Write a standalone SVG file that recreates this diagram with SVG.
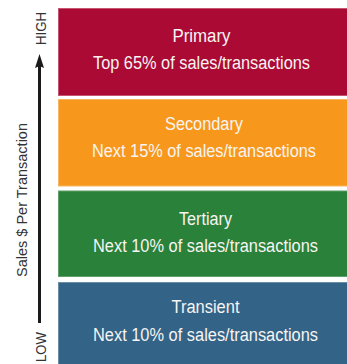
<svg xmlns="http://www.w3.org/2000/svg" width="347" height="364" viewBox="0 0 347 364">
  <style>
    .box text { font-family: "Liberation Sans", Arial, sans-serif; font-size: 18px; fill: #f7f4f2; text-anchor: middle; }
    .axis { font-family: "Liberation Sans", Arial, sans-serif; font-size: 14px; fill: #333; }
  </style>
  <rect width="347" height="364" fill="#ffffff"/>
  <g id="primary" class="box">
    <rect x="58.5" y="8.5" width="290" height="87" fill="#ab0a35" stroke="#c55470" stroke-width="1"/>
    <text x="201.5" y="42" textLength="58" lengthAdjust="spacingAndGlyphs">Primary</text>
    <text x="201.5" y="69" textLength="217" lengthAdjust="spacingAndGlyphs">Top 65% of sales/transactions</text>
  </g>
  <g id="secondary" class="box">
    <rect x="58.5" y="99.5" width="290" height="86.5" fill="#f7981d" stroke="#f9b660" stroke-width="1"/>
    <text x="204" y="130" textLength="78" lengthAdjust="spacingAndGlyphs">Secondary</text>
    <text x="204" y="157" textLength="224" lengthAdjust="spacingAndGlyphs">Next 15% of sales/transactions</text>
  </g>
  <g id="tertiary" class="box">
    <rect x="58.5" y="191" width="290" height="85.5" fill="#2a8139" stroke="#5d9f69" stroke-width="1"/>
    <text x="205.5" y="225" textLength="53" lengthAdjust="spacingAndGlyphs">Tertiary</text>
    <text x="205.5" y="252" textLength="225" lengthAdjust="spacingAndGlyphs">Next 10% of sales/transactions</text>
  </g>
  <g id="transient" class="box">
    <rect x="58.5" y="282.5" width="290" height="85" fill="#336386" stroke="#6b8ea8" stroke-width="1"/>
    <text x="205.5" y="313" textLength="68" lengthAdjust="spacingAndGlyphs">Transient</text>
    <text x="205.5" y="341" textLength="225" lengthAdjust="spacingAndGlyphs">Next 10% of sales/transactions</text>
  </g>
  <g id="axis">
    <line x1="39.5" y1="323" x2="39.5" y2="64" stroke="#1a1a1a" stroke-width="3"/>
    <polygon points="39.5,54 44,68 39.5,66 35,68" fill="#1a1a1a"/>
    <text class="axis" text-anchor="middle" transform="translate(46 28.5) rotate(-90)" textLength="33" lengthAdjust="spacingAndGlyphs">HIGH</text>
    <text class="axis" text-anchor="end" transform="translate(46 332) rotate(-90)" textLength="30" lengthAdjust="spacingAndGlyphs">LOW</text>
    <text class="axis" text-anchor="middle" transform="translate(27 200) rotate(-90)" textLength="154" lengthAdjust="spacingAndGlyphs">Sales $ Per Transaction</text>
  </g>
</svg>
